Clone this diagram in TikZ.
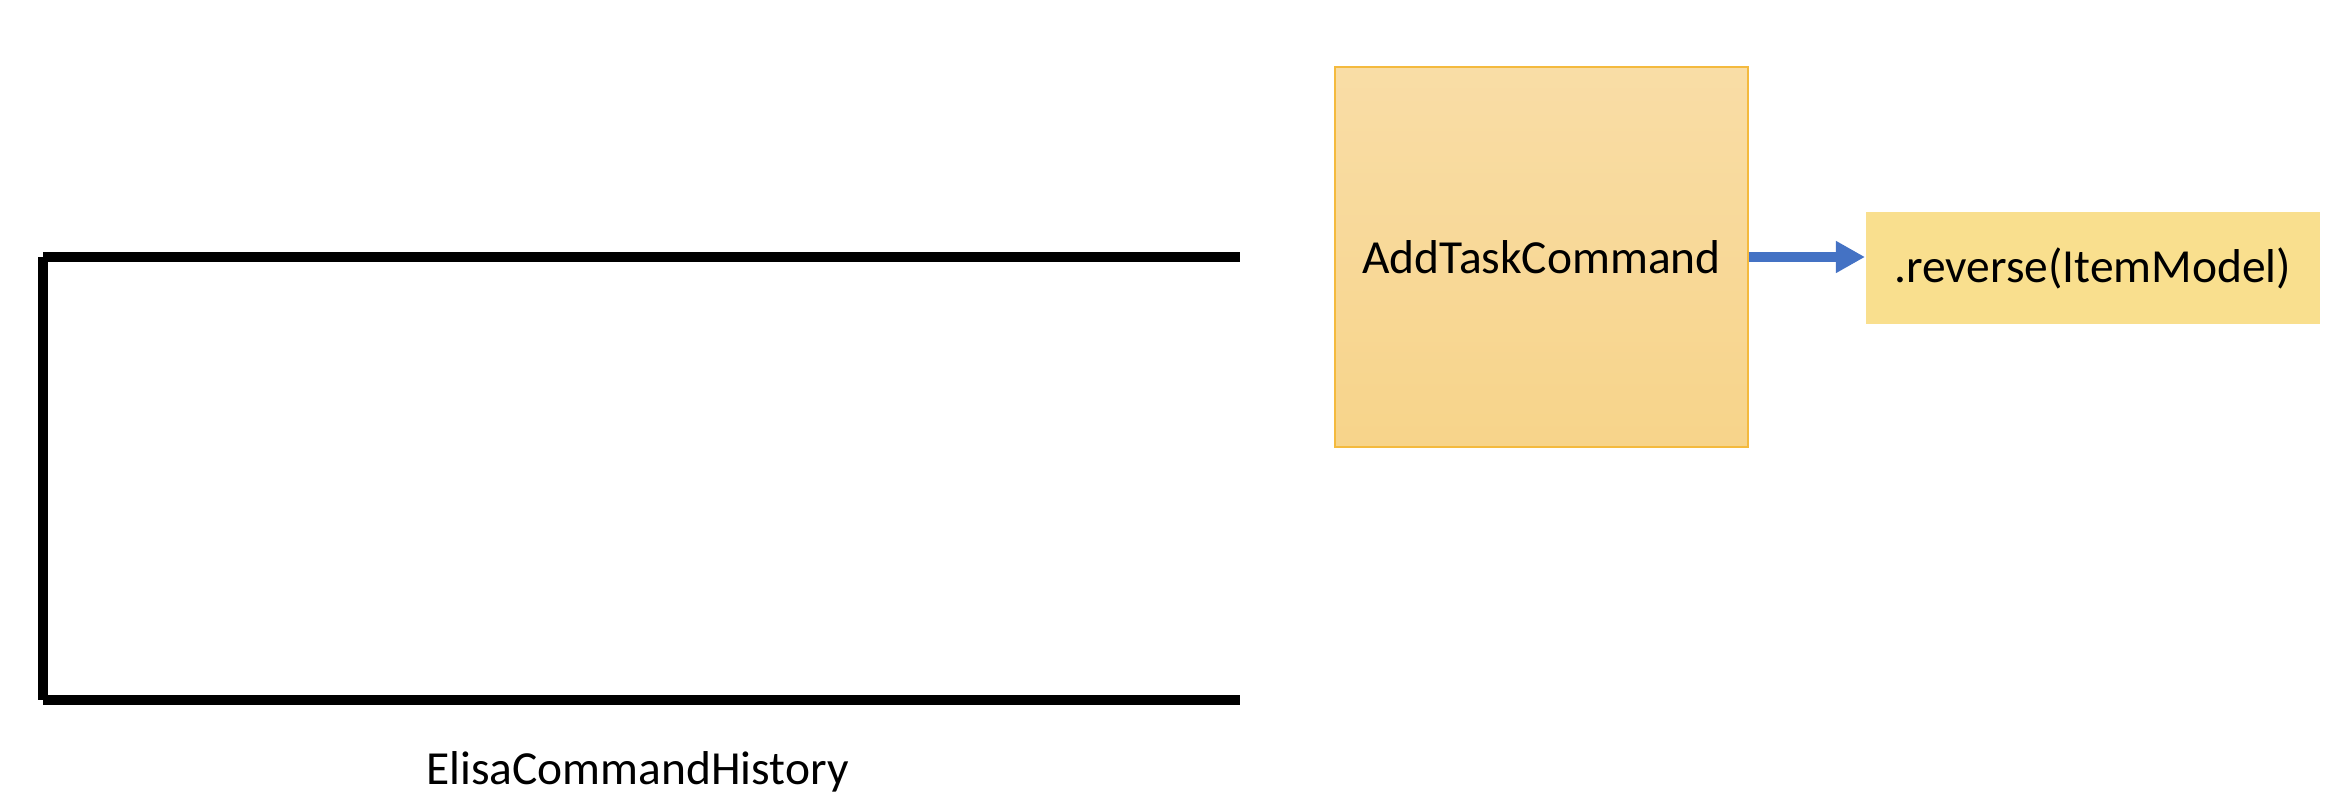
\documentclass[tikz,border=0pt]{standalone}
\usepackage{fontspec}
\setmainfont{Carlito}
\usetikzlibrary{positioning}
\usetikzlibrary{arrows.meta}
\definecolor{cmdtop}{HTML}{F9DDA6}
\definecolor{cmdbottom}{HTML}{F7D48A}
\definecolor{cmdedge}{HTML}{F4BA3E}
\definecolor{callfill}{HTML}{F9DF8E}
\definecolor{flowblue}{HTML}{4472C4}

\begin{document}
\begin{tikzpicture}[x=0.01cm, y=-0.01cm,
        node distance = 11.6mm,
        txt/.style = {font=\fontsize{13.5}{16}\selectfont},
        cmd/.style = {txt, draw=cmdedge, line width=0.45pt,
            top color=cmdtop, bottom color=cmdbottom,
            minimum width=4.13cm, minimum height=3.8cm, inner sep=0pt},
        call/.style = {txt, fill=callfill,
            minimum width=4.54cm, minimum height=1.12cm, inner sep=0pt},
        stackline/.style = {line width=2.85pt},
        flow/.style = {-{Triangle[length=2.9mm,width=3mm]},
            line width=2.85pt, flowblue}]
    \useasboundingbox (0,0) rectangle (2334,810);
    % history stack
    \coordinate (s1) at (43,257);
    \coordinate (s2) at (1240,257);
    \coordinate (s3) at (43,700);
    \coordinate (s4) at (1240,700);
    \draw[stackline] (s1) -- (s2);
    \draw[stackline] (s1) -- (s3);
    \draw[stackline] (s3) -- (s4);
    \node[txt] (hist) at (637.5,772) {ElisaCommandHistory};
    % command and its call
    \node[cmd] (add) at (1541.5,257) {AddTaskCommand};
    \node[call, right=of add, yshift=-0.11cm] (rev) {.reverse(ItemModel)};
    \draw[flow] (add.east) -- (add.east -| rev.west);
\end{tikzpicture}
\end{document}
